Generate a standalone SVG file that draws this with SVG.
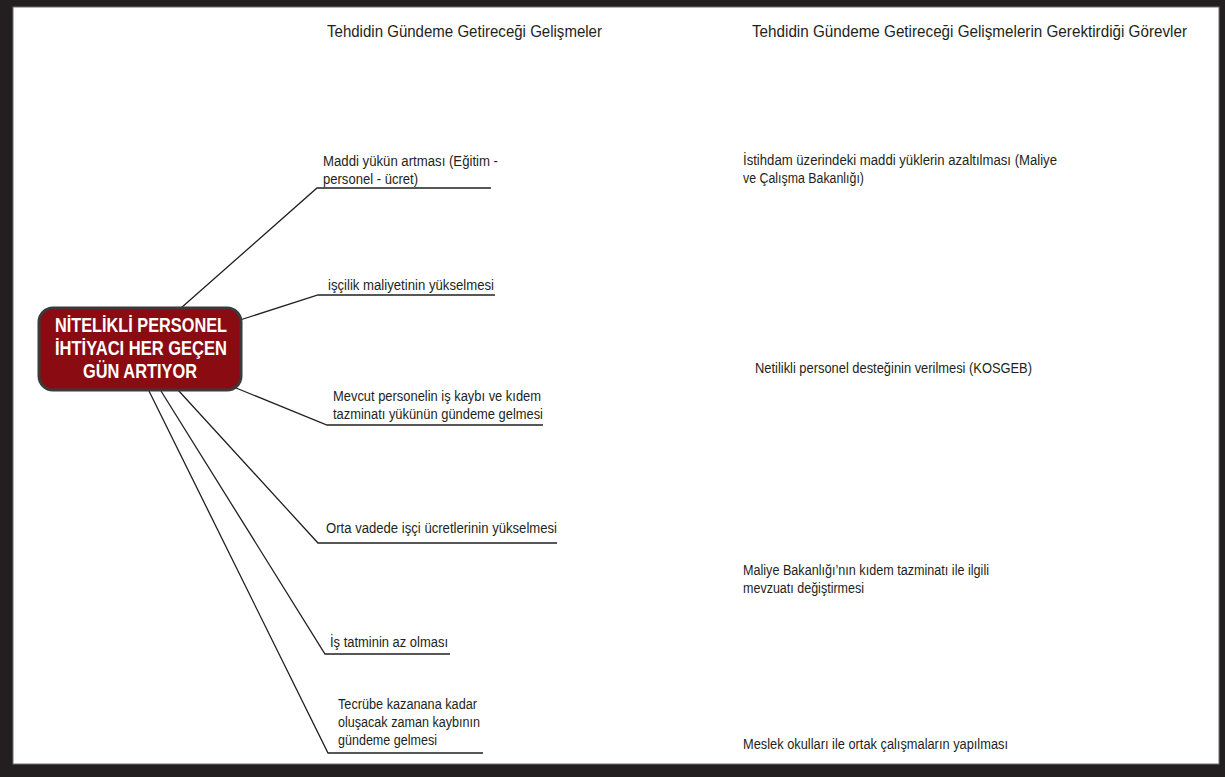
<svg xmlns="http://www.w3.org/2000/svg" width="1225" height="777" viewBox="0 0 1225 777">
<style>
.t{font-family:"Liberation Sans Narrow","Liberation Sans",Arial,sans-serif;font-size:14px;fill:#231f20}
.h{font-family:"Liberation Sans Narrow","Liberation Sans",Arial,sans-serif;font-size:16.5px;fill:#231f20}
.n{font-family:"Liberation Sans Narrow","Liberation Sans",Arial,sans-serif;font-size:19.5px;font-weight:bold;fill:#ffffff}
.c{fill:none;stroke:#231f20;stroke-width:1.3}
</style>
<rect x="0" y="0" width="1225" height="777" fill="#231f20"/>
<rect x="13" y="7" width="1206" height="757" fill="#ffffff" stroke="#6d6e70" stroke-width="1"/>
<g id="headers">
<text class="h" x="327" y="37" textLength="275" lengthAdjust="spacingAndGlyphs">Tehdidin Gündeme Getireceği Gelişmeler</text>
<text class="h" x="752" y="37" textLength="435" lengthAdjust="spacingAndGlyphs">Tehdidin Gündeme Getireceği Gelişmelerin Gerektirdiği Görevler</text>
</g>
<g id="connectors">
<polyline class="c" points="181,308 317,188 491,188"/>
<polyline class="c" points="240,320 318,295 495,295"/>
<polyline class="c" points="236,388 327,425 543,425"/>
<polyline class="c" points="178,390 318,543 557,543"/>
<polyline class="c" points="161,391 325,654 450,654"/>
<polyline class="c" points="149,391 328,753 483,753"/>
</g>
<g id="center">
<rect x="39" y="308" width="202" height="82" rx="14" ry="14" fill="#8a0b12" stroke="#3a3a3a" stroke-width="3"/>
<text class="n" x="55" y="332" textLength="172" lengthAdjust="spacingAndGlyphs">NİTELİKLİ PERSONEL</text>
<text class="n" x="55" y="355" textLength="172" lengthAdjust="spacingAndGlyphs">İHTİYACI HER GEÇEN</text>
<text class="n" x="83" y="378" textLength="114" lengthAdjust="spacingAndGlyphs">GÜN ARTIYOR</text>
</g>
<g id="b1">
<text class="t" x="323" y="166" textLength="175" lengthAdjust="spacingAndGlyphs">Maddi yükün artması (Eğitim -</text>
<text class="t" x="323" y="184" textLength="95" lengthAdjust="spacingAndGlyphs">personel - ücret)</text>
</g>
<g id="b2">
<text class="t" x="328" y="290" textLength="166" lengthAdjust="spacingAndGlyphs">işçilik maliyetinin yükselmesi</text>
</g>
<g id="b3">
<text class="t" x="333" y="401" textLength="208" lengthAdjust="spacingAndGlyphs">Mevcut personelin iş kaybı ve kıdem</text>
<text class="t" x="333" y="419" textLength="210" lengthAdjust="spacingAndGlyphs">tazminatı yükünün gündeme gelmesi</text>
</g>
<g id="b4">
<text class="t" x="326" y="533" textLength="231" lengthAdjust="spacingAndGlyphs">Orta vadede işçi ücretlerinin yükselmesi</text>
</g>
<g id="b5">
<text class="t" x="330" y="647" textLength="118" lengthAdjust="spacingAndGlyphs">İş tatminin az olması</text>
</g>
<g id="b6">
<text class="t" x="338" y="709" textLength="139" lengthAdjust="spacingAndGlyphs">Tecrübe kazanana kadar</text>
<text class="t" x="338" y="727" textLength="142" lengthAdjust="spacingAndGlyphs">oluşacak zaman kaybının</text>
<text class="t" x="338" y="745" textLength="99" lengthAdjust="spacingAndGlyphs">gündeme gelmesi</text>
</g>
<g id="r1">
<text class="t" x="743" y="165" textLength="314" lengthAdjust="spacingAndGlyphs">İstihdam üzerindeki maddi yüklerin azaltılması (Maliye</text>
<text class="t" x="743" y="183" textLength="121" lengthAdjust="spacingAndGlyphs">ve Çalışma Bakanlığı)</text>
</g>
<g id="r2">
<text class="t" x="755" y="373" textLength="277" lengthAdjust="spacingAndGlyphs">Netilikli personel desteğinin verilmesi (KOSGEB)</text>
</g>
<g id="r3">
<text class="t" x="743" y="575" textLength="246" lengthAdjust="spacingAndGlyphs">Maliye Bakanlığı’nın kıdem tazminatı ile ilgili</text>
<text class="t" x="743" y="593" textLength="121" lengthAdjust="spacingAndGlyphs">mevzuatı değiştirmesi</text>
</g>
<g id="r4">
<text class="t" x="743" y="749" textLength="265" lengthAdjust="spacingAndGlyphs">Meslek okulları ile ortak çalışmaların yapılması</text>
</g>
</svg>
